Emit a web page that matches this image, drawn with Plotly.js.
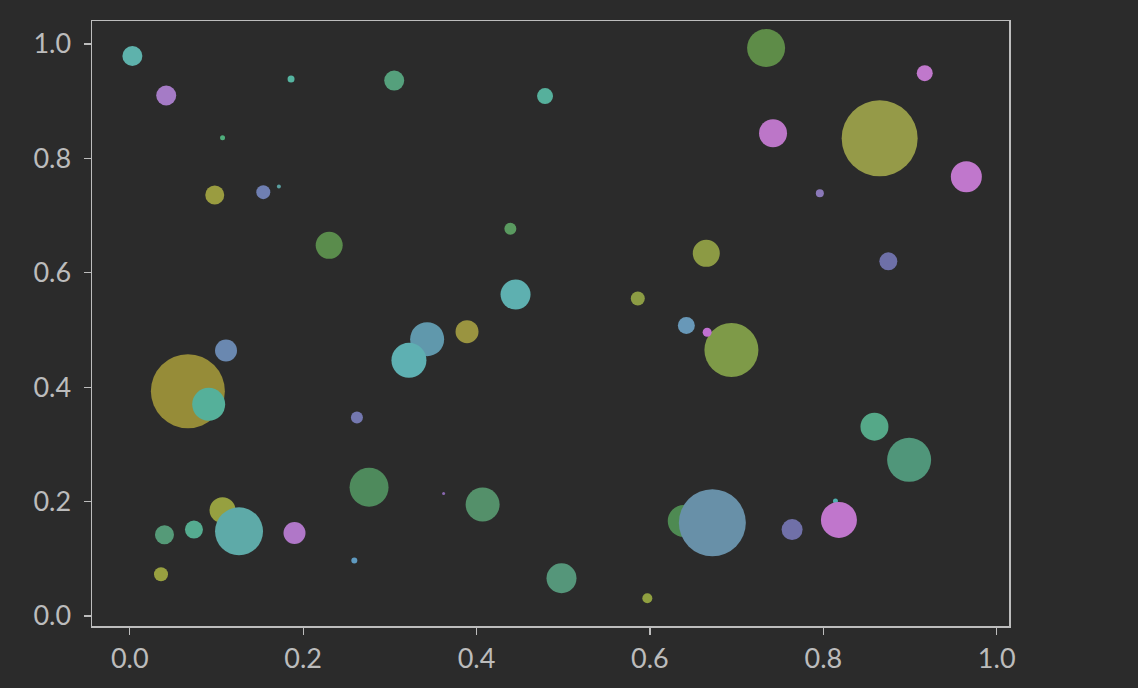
<!DOCTYPE html>
<html>
<head>
<meta charset="utf-8">
<script src="https://cdn.plot.ly/plotly-3.0.1.min.js"></script>
<style>
  html, body { margin: 0; padding: 0; background: #2b2b2b; }
  #chart { width: 1138px; height: 688px; }
</style>
</head>
<body>
<div id="chart"></div>
<script>
// Bubble data (draw order preserved)
const xs = [0.003, 0.042, 0.186, 0.107, 0.098, 0.154, 0.172, 0.230, 0.305, 0.479,
            0.439, 0.445, 0.586, 0.734, 0.917, 0.742, 0.865, 0.965, 0.796, 0.665,
            0.875, 0.343, 0.322, 0.389, 0.642, 0.694, 0.666, 0.362, 0.407, 0.498,
            0.597, 0.639, 0.672, 0.111, 0.067, 0.091, 0.262, 0.276, 0.107, 0.126,
            0.040, 0.074, 0.190, 0.036, 0.259, 0.859, 0.899, 0.764, 0.814, 0.818];
const ys = [0.979, 0.910, 0.939, 0.836, 0.736, 0.741, 0.751, 0.648, 0.936, 0.909,
            0.677, 0.562, 0.555, 0.993, 0.949, 0.844, 0.835, 0.768, 0.739, 0.634,
            0.620, 0.484, 0.447, 0.497, 0.508, 0.465, 0.496, 0.214, 0.195, 0.066,
            0.031, 0.166, 0.163, 0.464, 0.393, 0.370, 0.347, 0.225, 0.185, 0.148,
            0.142, 0.151, 0.145, 0.073, 0.097, 0.331, 0.273, 0.151, 0.201, 0.168];
const sizes = [20, 20, 7, 5, 19, 14, 4, 27, 20, 16,
               12, 30, 14, 38, 16, 28, 76, 31, 8, 27,
               18, 34, 35, 23, 17, 54, 9, 3, 34, 30,
               10, 32, 67, 22, 74, 33, 12, 39, 26, 48,
               19, 18, 22, 14, 6, 28, 44, 21, 5, 36];
const colors = ['#5eb2ac', '#a57bc6', '#55b4a0', '#4fae7c', '#9a9c40', '#6f7fb2', '#5aa0a0', '#5a8c4c', '#55a07c', '#56b09c',
                '#5a9a60', '#5eb0b0', '#8c9c44', '#5e8c48', '#c078cc', '#bc76c8', '#959a48', '#c077cc', '#8a78b8', '#8c9a44',
                '#6e70a8', '#6098ac', '#5eb0b2', '#9a9440', '#6898b8', '#7e9a48', '#c070d0', '#8a68b0', '#54906a', '#55967a',
                '#90a040', '#4e8a52', '#6890a8', '#6a88b0', '#968c38', '#55b09a', '#7478b0', '#4e8a5c', '#96a040', '#5eaaa8',
                '#559a78', '#55ac90', '#b077c8', '#98a040', '#5f9ac0', '#55a888', '#50967a', '#7070a8', '#4fb0b0', '#c076cc'];
const xTicks = [0.0, 0.2, 0.4, 0.6, 0.8, 1.0];
const yTicks = [0.0, 0.2, 0.4, 0.6, 0.8, 1.0];

const trace = {
  type: 'scatter',
  mode: 'markers',
  x: xs,
  y: ys,
  marker: {
    size: sizes,
    sizemode: 'diameter',
    color: colors,
    opacity: 1,
    line: { width: 0 }
  },
  hoverinfo: 'x+y'
};

const axisCommon = {
  showgrid: false,
  zeroline: false,
  showline: true,
  mirror: true,
  linecolor: '#bdbdbd',
  linewidth: 1.5,
  ticks: 'outside',
  ticklen: 7,
  tickwidth: 1.2,
  tickcolor: '#bdbdbd',
  tickfont: { family: 'Lato, "Noto Sans", sans-serif', size: 27, color: '#bcbcbc' },
  tickformat: '.1f'
};

const layout = {
  width: 1138,
  height: 688,
  margin: { l: 92, r: 129, t: 21, b: 62 },
  paper_bgcolor: '#2b2b2b',
  plot_bgcolor: '#2b2b2b',
  showlegend: false,
  xaxis: Object.assign({}, axisCommon, {
    range: [-0.0436, 1.0142],
    tickvals: xTicks,
    ticklabelstandoff: 1
  }),
  yaxis: Object.assign({}, axisCommon, {
    range: [-0.0175, 1.0402],
    tickvals: yTicks,
    ticklabelstandoff: 7
  })
};

Plotly.newPlot('chart', [trace], layout, { displayModeBar: false, staticPlot: true });
</script>
</body>
</html>
